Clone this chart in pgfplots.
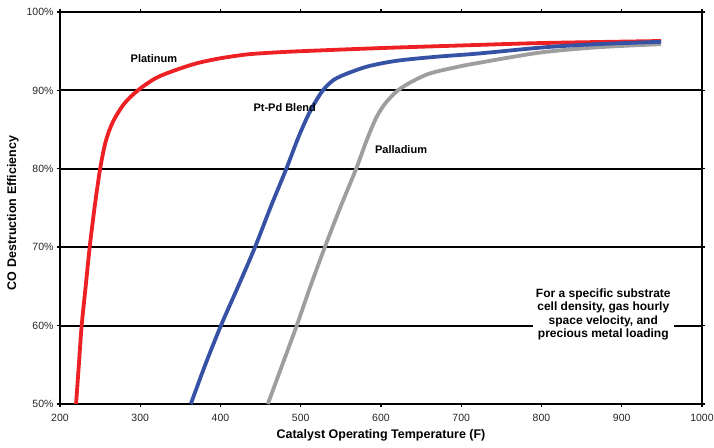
\documentclass[border=0pt]{standalone}
\usepackage{pgfplots}
\pgfplotsset{compat=1.18}
\usepackage{fontspec}
\setmainfont{Liberation Sans}
\definecolor{ptred}{RGB}{237,32,36}
\definecolor{pdblue}{RGB}{54,82,164}
\definecolor{pdgray}{RGB}{158,158,158}
\begin{document}
\begin{tikzpicture}
\path[use as bounding box] (-60pt,-43pt) rectangle (654pt,404pt);
\begin{axis}[
  scale only axis, width=642pt, height=392pt,
  xmin=200, xmax=1000, ymin=50, ymax=100,
  xtick={200,300,...,1000}, ytick={50,60,...,100},
  yticklabel={\pgfmathprintnumber{\tick}\%},
  /pgf/number format/assume math mode=true,
  /pgf/number format/1000 sep={},
  ticklabel style={font=\fontsize{10.5}{12}\selectfont, text=black!85},
  xticklabel style={yshift=-4pt},
  tick align=outside, major tick length=3pt,
  tick style={black, line width=1.4pt},
  axis line style={black, line width=2pt},
  ymajorgrids, grid style={black, line width=2pt},
  xlabel={\bfseries Catalyst Operating Temperature (F)},
  ylabel={\bfseries CO Destruction Efficiency},
  label style={font=\fontsize{12.5}{14}\selectfont},
  xlabel style={yshift=-1pt},
  ylabel style={yshift=1pt, xshift=-5pt},
  clip=false,
]
\addplot[ptred, line width=3.8pt, smooth, tension=0.5] coordinates {
(220,50) (223.5,55) (227,60) (232,65) (237,70) (243,75) (250,80) (257,83.5) (266,86) (280,88.3) (297,90) (320,91.6) (347,92.7) (372,93.5) (400,94.1) (434,94.6) (470,94.85) (500,95.0) (600,95.4) (721,95.8) (804,96.05) (949,96.3)};
\addplot[pdgray, line width=3.8pt, smooth, tension=0.5] coordinates {
(459,50) (477,55) (495,60) (512,65) (530,70) (549,75) (569,80) (582,83.6) (594,86.5) (605,88.3) (621,90) (640,91.2) (662,92.2) (700,93.1) (721,93.5) (760,94.2) (804,94.9) (870,95.5) (949,95.9)};
\addplot[pdblue, line width=3.8pt, smooth, tension=0.5] coordinates {
(363,50) (381,55) (400.5,60) (422,65) (443,70) (462,75) (482,80) (497,84) (510,87) (521,89) (530,90.3) (542,91.4) (559,92.2) (585,93.1) (621,93.8) (670,94.3) (721,94.7) (804,95.5) (870,95.9) (949,96.2)};
\node[font=\bfseries\fontsize{11}{12}\selectfont] at (axis cs:317,94.1) {Platinum};
\node[font=\bfseries\fontsize{11}{12}\selectfont] at (axis cs:480,87.8) {Pt-Pd Blend};
\node[font=\bfseries\fontsize{11}{12}\selectfont] at (axis cs:625,82.4) {Palladium};
\node[font=\bfseries\fontsize{12}{13.5}\selectfont, fill=white, align=center, inner sep=3pt] at (axis cs:877,61.4) {For a specific substrate\\cell density, gas hourly\\space velocity, and\\precious metal loading};
\end{axis}
\end{tikzpicture}
\end{document}
